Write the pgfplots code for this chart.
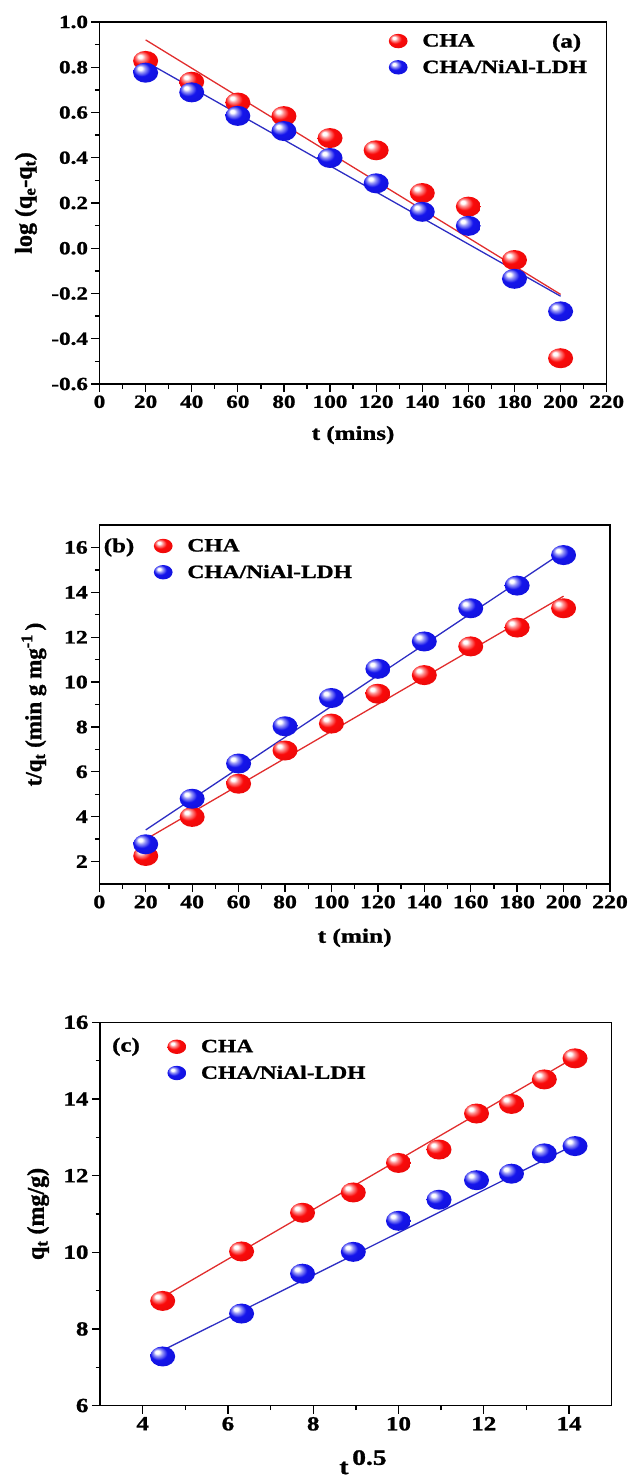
\documentclass[border=0pt]{standalone}
\usepackage{pgfplots}
\pgfplotsset{compat=1.18}
\usepackage{fontspec}
\setmainfont{Liberation Serif}[FakeStretch=1.25, BoldFeatures={FakeBold=1.2}]
\newfontfamily\plainserif{Liberation Serif}[BoldFeatures={FakeBold=1.2}]
\definecolor{lred}{RGB}{225,45,45}
\definecolor{lblue}{RGB}{45,45,195}
\definecolor{bred}{RGB}{250,10,10}
\definecolor{bblue}{RGB}{20,20,235}
\pgfdeclareradialshading{redballsh}{\pgfpoint{-12bp}{12bp}}{color(0bp)=(white); color(4bp)=(white); color(9bp)=(bred!45!white); color(17bp)=(bred); color(36bp)=(bred!92!black); color(50bp)=(bred!62!black)}
\pgfdeclareradialshading{blueballsh}{\pgfpoint{-12bp}{12bp}}{color(0bp)=(white); color(4bp)=(white); color(9bp)=(bblue!45!white); color(17bp)=(bblue); color(36bp)=(bblue!92!black); color(50bp)=(bblue!62!black)}
\pgfdeclareplotmark{rball}{\pgfpathcircle{\pgfpointorigin}{\pgfplotmarksize}\pgfshadepath{redballsh}{0}\pgfusepath{}}
\pgfdeclareplotmark{bball}{\pgfpathcircle{\pgfpointorigin}{\pgfplotmarksize}\pgfshadepath{blueballsh}{0}\pgfusepath{}}
\pgfplotsset{
  kin/.style={
    scale only axis,
    axis line style={line width=1.5pt},
    every tick/.style={line width=1.3pt, black},
    major tick length=8pt, minor tick length=4.5pt,
    tick align=outside, tick pos=left,
    minor x tick num=1, minor y tick num=1,
    /pgf/number format/assume math mode=true,
    legend style={draw=none, fill=none, inner sep=0pt, outer sep=0pt, row sep=10pt,
      column sep=0pt, nodes={inner sep=1pt}, font=\fontsize{18.8}{20}\selectfont\bfseries},
    legend cell align=left,
    legend image code/.code={\draw[##1, mark size=7.2pt, mark options={xscale=1.3}] plot coordinates {(0pt,0pt)}; \path (-9.4pt,0pt) (23pt,0pt);},
    clip=false,
  },
  redball/.style={only marks, mark=rball, mark size=10pt, mark options={xscale=1.25}},
  blueball/.style={only marks, mark=bball, mark size=10pt, mark options={xscale=1.25}},
  fitr/.style={no marks, color=lred, line width=1.3pt, forget plot},
  fitb/.style={no marks, color=lblue, line width=1.3pt, forget plot},
}
\begin{document}
\begin{tikzpicture}
\useasboundingbox (0,0) rectangle (630pt,-1477pt);
% ---------------- (a)
\begin{axis}[kin,
  at={(99.5pt,-384pt)}, anchor=south west,
  width=507.2pt, height=362pt,
  xmin=0, xmax=220, ymin=-0.6, ymax=1.0,
  xtick={0,20,...,220},
  ytick={-0.6,-0.4,-0.2,0,0.2,0.4,0.6,0.8,1.0},
  yticklabel style={/pgf/number format/.cd, fixed, fixed zerofill, precision=1},
  ticklabel style={font=\fontsize{18.5}{20}\selectfont\bfseries},
  xlabel={t (mins)},
  ylabel={log (q\textsubscript{e}-q\textsubscript{t})},
  xlabel style={font=\fontsize{20}{22}\selectfont\bfseries, at={(axis description cs:0.5,-0.141)}, anchor=center},
  ylabel style={font=\plainserif\fontsize{24}{26}\selectfont\bfseries, at={(axis description cs:-0.145,0.5)}, anchor=center},
  legend style={at={(axis cs:125.4,0.951)}, anchor=north west},
]
\addplot[redball] coordinates {(20,0.828) (40,0.736) (60,0.644) (80,0.584) (100,0.487) (120,0.433) (140,0.244) (160,0.184) (180,-0.052) (200,-0.486)};
\addlegendentry{CHA}
\addplot[blueball] coordinates {(20,0.776) (40,0.689) (60,0.585) (80,0.518) (100,0.399) (120,0.287) (140,0.161) (160,0.099) (180,-0.135) (200,-0.279)};
\addlegendentry{CHA/NiAl-LDH}
\addplot[fitr] coordinates {(20,0.921) (200,-0.204)};
\addplot[fitb] coordinates {(20,0.825) (200,-0.212)};
\node[font=\fontsize{20}{22}\selectfont\bfseries] at (axis cs:202.6,0.908) {(a)};
\end{axis}
% ---------------- (b)
\begin{axis}[kin,
  at={(99.3pt,-884pt)}, anchor=south west,
  width=510.7pt, height=359pt,
  xmin=0, xmax=220, ymin=1, ymax=17,
  xtick={0,20,...,220},
  ytick={2,4,...,16},
  ticklabel style={font=\fontsize{19}{21}\selectfont\bfseries},
  xlabel={t (min)},
  ylabel={t/q\textsubscript{t} (min g mg\textsuperscript{-1}\,)},
  xlabel style={font=\fontsize{20.3}{22}\selectfont\bfseries, at={(axis description cs:0.5,-0.150)}, anchor=center},
  ylabel style={font=\plainserif\fontsize{23}{25}\selectfont\bfseries, at={(axis description cs:-0.128,0.5)}, anchor=center},
  legend style={at={(axis cs:23.4,16.42)}, anchor=north west},
]
\addplot[fitr] coordinates {(20,2.99) (200,13.83)};
\addplot[fitb] coordinates {(20,3.41) (200,15.81)};
\addplot[redball] coordinates {(20,2.25) (40,3.99) (60,5.47) (80,6.95) (100,8.15) (120,9.48) (140,10.31) (160,11.59) (180,12.43) (200,13.29)};
\addlegendentry{CHA}
\addplot[blueball] coordinates {(20,2.77) (40,4.80) (60,6.37) (80,8.03) (100,9.29) (120,10.59) (140,11.81) (160,13.29) (180,14.30) (200,15.66)};
\addlegendentry{CHA/NiAl-LDH}
\node[font=\fontsize{20}{22}\selectfont\bfseries] at (axis cs:8.5,16) {(b)};
\end{axis}
% ---------------- (c)
\begin{axis}[kin,
  at={(100pt,-1405.5pt)}, anchor=south west,
  width=511.7pt, height=383.2pt,
  xmin=3, xmax=15, ymin=6, ymax=16,
  xtick={4,6,...,14},
  ytick={6,8,...,16},
  ticklabel style={font=\fontsize{20}{22}\selectfont\bfseries},
  xlabel={t\,\raisebox{0.42em}{0.5}},
  ylabel={q\textsubscript{t} (mg/g)},
  xlabel style={font=\fontsize{22}{24}\selectfont\bfseries, at={(axis description cs:0.514,-0.148)}, anchor=center},
  ylabel style={font=\plainserif\fontsize{24}{26}\selectfont\bfseries, at={(axis description cs:-0.121,0.5)}, anchor=center},
  legend style={at={(axis cs:4.576,15.57)}, anchor=north west},
]
\addplot[fitr] coordinates {(4.47,8.83) (14.14,15.09)};
\addplot[fitb] coordinates {(4.47,7.44) (14.14,12.81)};
\addplot[redball] coordinates {(4.47,8.73) (6.32,10.02) (7.75,11.03) (8.94,11.56) (10,12.33) (10.95,12.68) (11.83,13.62) (12.65,13.87) (13.42,14.51) (14.14,15.06)};
\addlegendentry{CHA}
\addplot[blueball] coordinates {(4.47,7.28) (6.32,8.40) (7.75,9.44) (8.94,10.01) (10,10.82) (10.95,11.37) (11.83,11.88) (12.65,12.05) (13.42,12.58) (14.14,12.77)};
\addlegendentry{CHA/NiAl-LDH}
\node[font=\fontsize{20}{22}\selectfont\bfseries] at (axis cs:3.61,15.36) {(c)};
\end{axis}
\end{tikzpicture}
\end{document}
